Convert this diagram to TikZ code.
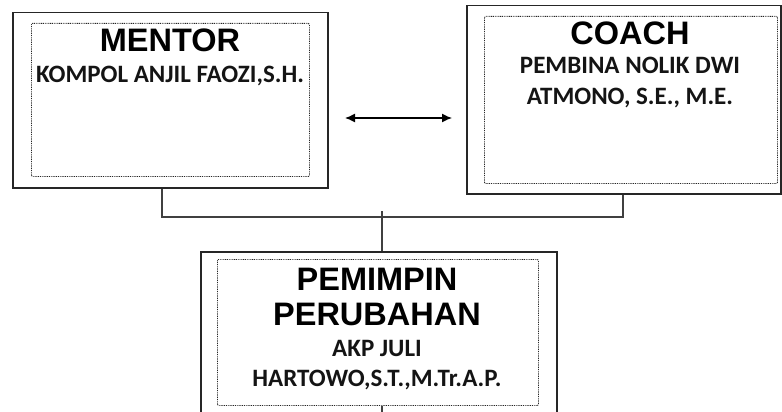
\documentclass[tikz,border=0pt]{standalone}
\usepackage{fontspec}
\setmainfont{Liberation Sans}
\newfontfamily\calib{Carlito}
\usetikzlibrary{arrows.meta}
\begin{document}
\begin{tikzpicture}[x=1pt,y=-1pt,
  outerbox/.style={draw=black!85, line width=1.5pt, rectangle, inner sep=0pt, anchor=north west},
  innerbox/.style={draw=black!85, line width=0.9pt, dash pattern=on 0.9pt off 0.9pt, rectangle, inner sep=0pt, anchor=north west, rounded corners=1pt},
  title/.style={font=\bfseries\fontsize{32.5}{32.5}\selectfont, anchor=base, inner sep=0pt},
  sub/.style={font=\calib\bfseries\fontsize{25}{25}\selectfont, anchor=base, inner sep=0pt, text=black!92},
  link/.style={draw=black!75, line width=1.3pt}]
\useasboundingbox (0,0) rectangle (782,412);
\clip (0,0) rectangle (782,412);
% boxes
\node[outerbox, minimum width=315pt, minimum height=175pt] (mentorO) at (12,12) {};
\node[innerbox, minimum width=278pt, minimum height=153pt] (mentorI) at (31,23) {};
\node[outerbox, minimum width=314pt, minimum height=188pt] (coachO) at (466,5) {};
\node[innerbox, minimum width=293pt, minimum height=167pt] (coachI) at (484,16) {};
\node[outerbox, minimum width=356pt, minimum height=190pt] (pemO) at (200,251) {};
\node[innerbox, minimum width=321pt, minimum height=146pt] (pemI) at (217,259) {};
% texts
\node[title] (t1) at (170,52) {MENTOR};
\node[sub] (s1) at (170,83) {KOMPOL ANJIL FAOZI,S.H.};
\node[title] (t2) at (630,45) {COACH};
\node[sub] (s2a) at (630,74) {PEMBINA NOLIK DWI};
\node[sub] (s2b) at (630,104) {ATMONO, S.E., M.E.};
\node[title] (t3a) at (377,290) {PEMIMPIN};
\node[title] (t3b) at (377,325) {PERUBAHAN};
\node[sub] (s3a) at (377,356) {AKP JULI};
\node[sub] (s3b) at (377,386) {HARTOWO,S.T.,M.Tr.A.P.};
% connectors
\coordinate (mj) at (162,217);
\coordinate (cj) at (623,217);
\coordinate (top) at (382,211);
\coordinate (bot) at (382,420);
\coordinate (aL) at (345,118);
\coordinate (aR) at (452,118);
\draw[link] (mentorO.south -| mj) -- (mj) -- (cj) -- (coachO.south -| cj);
\draw[link] (top) -- (pemO.north -| top);
\draw[link] (pemI.south -| bot) -- (bot);
\draw[line width=1.3pt, {Latex[length=10pt,width=9pt]}-{Latex[length=10pt,width=9pt]}] (aL) -- (aR);
\end{tikzpicture}
\end{document}
